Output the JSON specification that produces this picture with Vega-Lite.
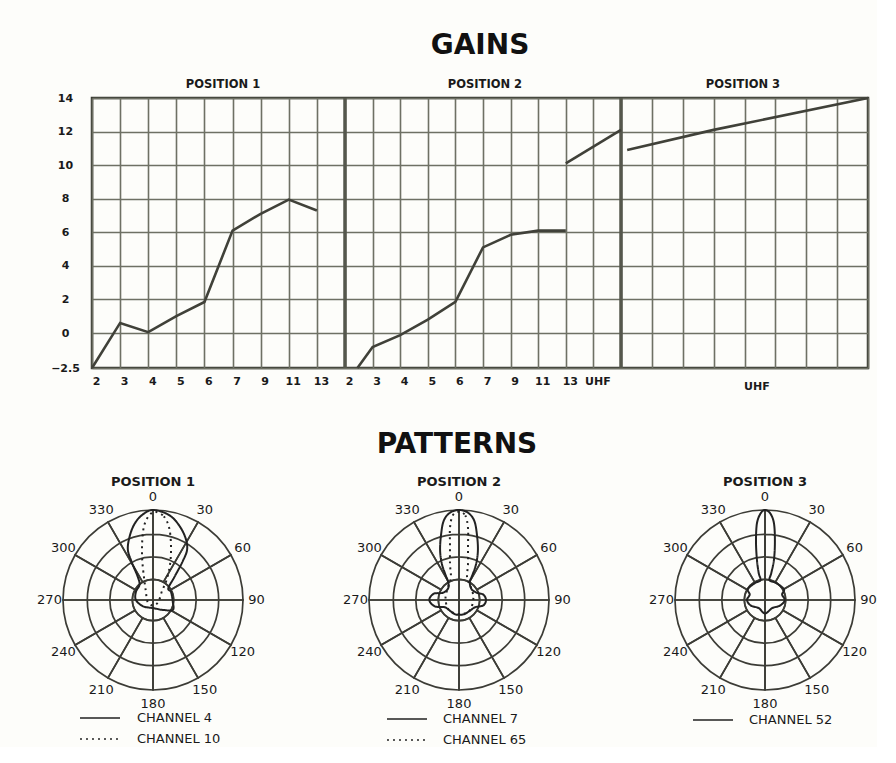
{
  "$schema": "https://vega.github.io/schema/vega-lite/v6.json",
  "background": "#fdfdfa",
  "padding": {"left": 37, "top": 30, "right": 0, "bottom": 0},
  "config": {"view": {"stroke": null}, "font": "DejaVu Sans"},
  "datasets": {
    "gains": [
      {"seg": "p1", "col": 0, "gain": -2.5}, {"seg": "p1", "col": 1, "gain": 0.6}, {"seg": "p1", "col": 2, "gain": 0.05},
      {"seg": "p1", "col": 3, "gain": 1.0}, {"seg": "p1", "col": 4, "gain": 1.85}, {"seg": "p1", "col": 5, "gain": 6.1},
      {"seg": "p1", "col": 6, "gain": 7.1}, {"seg": "p1", "col": 7, "gain": 7.95}, {"seg": "p1", "col": 8, "gain": 7.3},
      {"seg": "p2", "col": 9.45, "gain": -2.5}, {"seg": "p2", "col": 10, "gain": -1.0}, {"seg": "p2", "col": 11, "gain": -0.15},
      {"seg": "p2", "col": 12, "gain": 0.8}, {"seg": "p2", "col": 13, "gain": 1.85}, {"seg": "p2", "col": 14, "gain": 5.1},
      {"seg": "p2", "col": 15, "gain": 5.85}, {"seg": "p2", "col": 16, "gain": 6.1}, {"seg": "p2", "col": 17, "gain": 6.1},
      {"seg": "p2u", "col": 17, "gain": 10.1}, {"seg": "p2u", "col": 19, "gain": 12.1},
      {"seg": "p3", "col": 19.2, "gain": 10.9}, {"seg": "p3", "col": 22, "gain": 12.1}, {"seg": "p3", "col": 27, "gain": 14.0}
    ],
    "polargrid": [
      {"t": 0, "t2": 30, "r": 1, "r2": 0.23}, {"t": 30, "t2": 60, "r": 1, "r2": 0.23},
      {"t": 60, "t2": 90, "r": 1, "r2": 0.23}, {"t": 90, "t2": 120, "r": 1, "r2": 0.23},
      {"t": 120, "t2": 150, "r": 1, "r2": 0.23}, {"t": 150, "t2": 180, "r": 1, "r2": 0.23},
      {"t": 180, "t2": 210, "r": 1, "r2": 0.23}, {"t": 210, "t2": 240, "r": 1, "r2": 0.23},
      {"t": 240, "t2": 270, "r": 1, "r2": 0.23}, {"t": 270, "t2": 300, "r": 1, "r2": 0.23},
      {"t": 300, "t2": 330, "r": 1, "r2": 0.23}, {"t": 330, "t2": 360, "r": 1, "r2": 0.23},
      {"t": 0, "t2": 90, "r": 0.23, "r2": 0}, {"t": 90, "t2": 180, "r": 0.23, "r2": 0},
      {"t": 180, "t2": 270, "r": 0.23, "r2": 0}, {"t": 270, "t2": 360, "r": 0.23, "r2": 0},
      {"t": 0, "t2": 360, "r": 0.73, "r2": 0.48}
    ],
    "angles": [
      {"a": 0, "lab": "0"}, {"a": 30, "lab": "30"}, {"a": 60, "lab": "60"}, {"a": 90, "lab": "90"},
      {"a": 120, "lab": "120"}, {"a": 150, "lab": "150"}, {"a": 180, "lab": "180"}, {"a": 210, "lab": "210"},
      {"a": 240, "lab": "240"}, {"a": 270, "lab": "270"}, {"a": 300, "lab": "300"}, {"a": 330, "lab": "330"}
    ],
    "pat1": [
      {"ch": "CHANNEL 4", "i": 0, "x": 0, "y": 1.0}, {"ch": "CHANNEL 4", "i": 1, "x": 0.15, "y": 0.96},
      {"ch": "CHANNEL 4", "i": 2, "x": 0.26, "y": 0.87}, {"ch": "CHANNEL 4", "i": 3, "x": 0.35, "y": 0.72},
      {"ch": "CHANNEL 4", "i": 4, "x": 0.38, "y": 0.57}, {"ch": "CHANNEL 4", "i": 5, "x": 0.33, "y": 0.43},
      {"ch": "CHANNEL 4", "i": 6, "x": 0.24, "y": 0.26}, {"ch": "CHANNEL 4", "i": 7, "x": 0.17, "y": 0.13},
      {"ch": "CHANNEL 4", "i": 8, "x": 0.2, "y": 0.09}, {"ch": "CHANNEL 4", "i": 9, "x": 0.22, "y": -0.02},
      {"ch": "CHANNEL 4", "i": 10, "x": 0.22, "y": -0.11}, {"ch": "CHANNEL 4", "i": 11, "x": 0.11, "y": -0.11},
      {"ch": "CHANNEL 4", "i": 12, "x": 0, "y": -0.09}, {"ch": "CHANNEL 4", "i": 13, "x": -0.11, "y": -0.07},
      {"ch": "CHANNEL 4", "i": 14, "x": -0.19, "y": 0}, {"ch": "CHANNEL 4", "i": 15, "x": -0.19, "y": 0.09},
      {"ch": "CHANNEL 4", "i": 16, "x": -0.15, "y": 0.17}, {"ch": "CHANNEL 4", "i": 17, "x": -0.17, "y": 0.26},
      {"ch": "CHANNEL 4", "i": 18, "x": -0.24, "y": 0.43}, {"ch": "CHANNEL 4", "i": 19, "x": -0.28, "y": 0.57},
      {"ch": "CHANNEL 4", "i": 20, "x": -0.25, "y": 0.74}, {"ch": "CHANNEL 4", "i": 21, "x": -0.19, "y": 0.87},
      {"ch": "CHANNEL 4", "i": 22, "x": -0.1, "y": 0.96},
      {"ch": "CHANNEL 10", "i": 0, "x": 0.02, "y": 0.98}, {"ch": "CHANNEL 10", "i": 1, "x": 0.12, "y": 0.93},
      {"ch": "CHANNEL 10", "i": 2, "x": 0.18, "y": 0.8}, {"ch": "CHANNEL 10", "i": 3, "x": 0.2, "y": 0.6},
      {"ch": "CHANNEL 10", "i": 4, "x": 0.19, "y": 0.4}, {"ch": "CHANNEL 10", "i": 5, "x": 0.15, "y": 0.22},
      {"ch": "CHANNEL 10", "i": 6, "x": 0.1, "y": 0.1}, {"ch": "CHANNEL 10", "i": 7, "x": 0.06, "y": -0.02},
      {"ch": "CHANNEL 10", "i": 8, "x": 0, "y": -0.06}, {"ch": "CHANNEL 10", "i": 9, "x": -0.06, "y": -0.02},
      {"ch": "CHANNEL 10", "i": 10, "x": -0.08, "y": 0.1}, {"ch": "CHANNEL 10", "i": 11, "x": -0.1, "y": 0.25},
      {"ch": "CHANNEL 10", "i": 12, "x": -0.12, "y": 0.45}, {"ch": "CHANNEL 10", "i": 13, "x": -0.12, "y": 0.65},
      {"ch": "CHANNEL 10", "i": 14, "x": -0.1, "y": 0.82}, {"ch": "CHANNEL 10", "i": 15, "x": -0.05, "y": 0.93}
    ],
    "pat2": [
      {"ch": "CHANNEL 7", "i": 0, "x": 0, "y": 1.0}, {"ch": "CHANNEL 7", "i": 1, "x": 0.1, "y": 0.97},
      {"ch": "CHANNEL 7", "i": 2, "x": 0.17, "y": 0.88}, {"ch": "CHANNEL 7", "i": 3, "x": 0.2, "y": 0.72},
      {"ch": "CHANNEL 7", "i": 4, "x": 0.21, "y": 0.55}, {"ch": "CHANNEL 7", "i": 5, "x": 0.19, "y": 0.4},
      {"ch": "CHANNEL 7", "i": 6, "x": 0.15, "y": 0.28}, {"ch": "CHANNEL 7", "i": 7, "x": 0.12, "y": 0.2},
      {"ch": "CHANNEL 7", "i": 8, "x": 0.14, "y": 0.12}, {"ch": "CHANNEL 7", "i": 9, "x": 0.2, "y": 0.08},
      {"ch": "CHANNEL 7", "i": 10, "x": 0.27, "y": 0.06}, {"ch": "CHANNEL 7", "i": 11, "x": 0.3, "y": 0.0},
      {"ch": "CHANNEL 7", "i": 12, "x": 0.27, "y": -0.06}, {"ch": "CHANNEL 7", "i": 13, "x": 0.18, "y": -0.08},
      {"ch": "CHANNEL 7", "i": 14, "x": 0.12, "y": -0.12}, {"ch": "CHANNEL 7", "i": 15, "x": 0.05, "y": -0.16},
      {"ch": "CHANNEL 7", "i": 16, "x": -0.04, "y": -0.16}, {"ch": "CHANNEL 7", "i": 17, "x": -0.1, "y": -0.12},
      {"ch": "CHANNEL 7", "i": 18, "x": -0.16, "y": -0.08}, {"ch": "CHANNEL 7", "i": 19, "x": -0.27, "y": -0.07},
      {"ch": "CHANNEL 7", "i": 20, "x": -0.33, "y": 0.0}, {"ch": "CHANNEL 7", "i": 21, "x": -0.28, "y": 0.07},
      {"ch": "CHANNEL 7", "i": 22, "x": -0.18, "y": 0.08}, {"ch": "CHANNEL 7", "i": 23, "x": -0.12, "y": 0.13},
      {"ch": "CHANNEL 7", "i": 24, "x": -0.12, "y": 0.2}, {"ch": "CHANNEL 7", "i": 25, "x": -0.15, "y": 0.28},
      {"ch": "CHANNEL 7", "i": 26, "x": -0.19, "y": 0.4}, {"ch": "CHANNEL 7", "i": 27, "x": -0.21, "y": 0.55},
      {"ch": "CHANNEL 7", "i": 28, "x": -0.2, "y": 0.72}, {"ch": "CHANNEL 7", "i": 29, "x": -0.17, "y": 0.88},
      {"ch": "CHANNEL 7", "i": 30, "x": -0.1, "y": 0.97},
      {"ch": "CHANNEL 65", "i": 0, "x": 0, "y": 0.98}, {"ch": "CHANNEL 65", "i": 1, "x": 0.07, "y": 0.94},
      {"ch": "CHANNEL 65", "i": 2, "x": 0.1, "y": 0.8}, {"ch": "CHANNEL 65", "i": 3, "x": 0.1, "y": 0.6},
      {"ch": "CHANNEL 65", "i": 4, "x": 0.1, "y": 0.4}, {"ch": "CHANNEL 65", "i": 5, "x": 0.09, "y": 0.25},
      {"ch": "CHANNEL 65", "i": 6, "x": 0.13, "y": 0.15}, {"ch": "CHANNEL 65", "i": 7, "x": 0.16, "y": 0.03},
      {"ch": "CHANNEL 65", "i": 8, "x": 0.13, "y": -0.1}, {"ch": "CHANNEL 65", "i": 9, "x": 0.06, "y": -0.15},
      {"ch": "CHANNEL 65", "i": 10, "x": -0.04, "y": -0.15}, {"ch": "CHANNEL 65", "i": 11, "x": -0.12, "y": -0.1},
      {"ch": "CHANNEL 65", "i": 12, "x": -0.15, "y": 0.02}, {"ch": "CHANNEL 65", "i": 13, "x": -0.12, "y": 0.15},
      {"ch": "CHANNEL 65", "i": 14, "x": -0.09, "y": 0.25}, {"ch": "CHANNEL 65", "i": 15, "x": -0.1, "y": 0.4},
      {"ch": "CHANNEL 65", "i": 16, "x": -0.1, "y": 0.6}, {"ch": "CHANNEL 65", "i": 17, "x": -0.1, "y": 0.8},
      {"ch": "CHANNEL 65", "i": 18, "x": -0.07, "y": 0.94}
    ],
    "pat3": [
      {"ch": "CHANNEL 52", "i": 0, "x": 0, "y": 1.0}, {"ch": "CHANNEL 52", "i": 1, "x": 0.06, "y": 0.96},
      {"ch": "CHANNEL 52", "i": 2, "x": 0.1, "y": 0.85}, {"ch": "CHANNEL 52", "i": 3, "x": 0.11, "y": 0.65},
      {"ch": "CHANNEL 52", "i": 4, "x": 0.1, "y": 0.45}, {"ch": "CHANNEL 52", "i": 5, "x": 0.07, "y": 0.3},
      {"ch": "CHANNEL 52", "i": 6, "x": 0.05, "y": 0.22}, {"ch": "CHANNEL 52", "i": 7, "x": 0.12, "y": 0.19},
      {"ch": "CHANNEL 52", "i": 8, "x": 0.21, "y": 0.12}, {"ch": "CHANNEL 52", "i": 9, "x": 0.19, "y": 0.06},
      {"ch": "CHANNEL 52", "i": 10, "x": 0.22, "y": 0.0}, {"ch": "CHANNEL 52", "i": 11, "x": 0.17, "y": -0.06},
      {"ch": "CHANNEL 52", "i": 12, "x": 0.08, "y": -0.09}, {"ch": "CHANNEL 52", "i": 13, "x": 0, "y": -0.15},
      {"ch": "CHANNEL 52", "i": 14, "x": -0.07, "y": -0.09}, {"ch": "CHANNEL 52", "i": 15, "x": -0.16, "y": -0.06},
      {"ch": "CHANNEL 52", "i": 16, "x": -0.2, "y": 0.0}, {"ch": "CHANNEL 52", "i": 17, "x": -0.17, "y": 0.06},
      {"ch": "CHANNEL 52", "i": 18, "x": -0.19, "y": 0.12}, {"ch": "CHANNEL 52", "i": 19, "x": -0.11, "y": 0.19},
      {"ch": "CHANNEL 52", "i": 20, "x": -0.05, "y": 0.22}, {"ch": "CHANNEL 52", "i": 21, "x": -0.07, "y": 0.3},
      {"ch": "CHANNEL 52", "i": 22, "x": -0.09, "y": 0.45}, {"ch": "CHANNEL 52", "i": 23, "x": -0.1, "y": 0.65},
      {"ch": "CHANNEL 52", "i": 24, "x": -0.09, "y": 0.85}, {"ch": "CHANNEL 52", "i": 25, "x": -0.05, "y": 0.96}
    ]
  },
  "spacing": 36,
  "vconcat": [
    {
      "spacing": 0,
      "hconcat": [
        {
          "width": 4,
          "height": 10,
          "mark": {"type": "point", "opacity": 0},
          "encoding": {}
        },
        {
          "title": {"text": "GAINS", "fontSize": 28, "fontWeight": "bold", "font": "DejaVu Sans", "color": "#111111", "anchor": "middle", "offset": 19},
          "width": 776,
          "height": 270,
          "view": {"stroke": "#3a3b33", "strokeWidth": 2.5},
          "layer": [
            {
              "data": {"values": [{"col": 9}, {"col": 19}]},
              "mark": {"type": "rule", "color": "#55574c", "strokeWidth": 3.5},
              "encoding": {"x": {"field": "col", "type": "quantitative"}}
            },
            {
              "data": {"name": "gains"},
              "mark": {"type": "line", "color": "#404139", "strokeWidth": 2.6},
              "encoding": {
                "x": {
                  "field": "col", "type": "quantitative",
                  "scale": {"domain": [0, 9, 19, 27], "range": [0, 253, 529, 776], "nice": false, "zero": false},
                  "axis": {
                    "title": null,
                    "values": [0, 1, 2, 3, 4, 5, 6, 7, 8, 9, 10, 11, 12, 13, 14, 15, 16, 17, 18, 19, 20, 21, 22, 23, 24, 25, 26, 27],
                    "tickCount": 100,
                    "grid": true, "gridColor": "#6e7064", "gridWidth": 1.6,
                    "domain": false, "ticks": false,
                    "labelExpr": "datum.value < 19 ? ['2','3','4','5','6','7','9','11','13','2','3','4','5','6','7','9','11','13','UHF'][datum.value] : ''",
                    "labelFont": "DejaVu Sans", "labelFontSize": 11, "labelFontWeight": "bold", "labelColor": "#1a1a1a",
                    "labelPadding": 7, "labelOffset": 4, "labelOverlap": false, "labelFlush": false
                  }
                },
                "y": {
                  "field": "gain", "type": "quantitative",
                  "scale": {"domain": [-2.5, 0, 14], "range": [270, 235, 0], "nice": false, "zero": false},
                  "axis": {
                    "title": null,
                    "values": [-2.5, 0, 2, 4, 6, 8, 10, 12, 14],
                    "tickCount": 100,
                    "grid": true, "gridColor": "#6e7064", "gridWidth": 1.6,
                    "domain": false, "ticks": false,
                    "labelExpr": "datum.value == -2.5 ? '−2.5' : '' + datum.value",
                    "labelFont": "DejaVu Sans", "labelFontSize": 11, "labelFontWeight": "bold", "labelColor": "#1a1a1a",
                    "labelAlign": "center", "labelPadding": 27, "labelOverlap": false
                  }
                },
                "detail": {"field": "seg", "type": "nominal"}
              }
            },
            {
              "data": {"values": [{"col": 4.66, "label": "POSITION 1"}, {"col": 14.07, "label": "POSITION 2"}, {"col": 22.95, "label": "POSITION 3"}]},
              "mark": {"type": "text", "font": "DejaVu Sans", "fontSize": 11.5, "fontWeight": "bold", "color": "#1a1a1a", "dy": -13},
              "encoding": {
                "x": {"field": "col", "type": "quantitative"},
                "y": {"datum": 14, "type": "quantitative"},
                "text": {"field": "label"}
              }
            },
            {
              "data": {"values": [{"col": 23.4, "label": "UHF"}]},
              "mark": {"type": "text", "font": "DejaVu Sans", "fontSize": 11, "fontWeight": "bold", "color": "#1a1a1a", "dy": 19},
              "encoding": {
                "x": {"field": "col", "type": "quantitative"},
                "y": {"datum": -2.5, "type": "quantitative"},
                "text": {"field": "label"}
              }
            }
          ]
        }
      ]
    },
    {
      "title": {"text": "PATTERNS", "fontSize": 28, "fontWeight": "bold", "font": "DejaVu Sans", "color": "#111111", "anchor": "middle", "offset": 17},
      "spacing": 78,
      "resolve": {"scale": {"strokeDash": "independent"}, "legend": {"strokeDash": "independent"}},
      "hconcat": [
        {
          "title": {"text": "POSITION 1", "fontSize": 13, "fontWeight": "bold", "font": "DejaVu Sans", "color": "#1a1a1a", "anchor": "middle", "frame": "group", "offset": 2},
          "width": 216, "height": 216,
          "layer": [
            {
              "data": {"name": "polargrid"},
              "mark": {"type": "arc", "filled": false, "stroke": "#3c3c36", "strokeWidth": 1.7},
              "encoding": {
                "theta": {"field": "t", "type": "quantitative", "scale": {"domain": [0, 360], "range": [0, 6.283185]}, "stack": null},
                "theta2": {"field": "t2"},
                "radius": {"field": "r", "type": "quantitative", "scale": {"type": "linear", "domain": [0, 1.2], "range": [0, 108], "zero": true}},
                "radius2": {"field": "r2"}
              }
            },
            {
              "data": {"name": "angles"},
              "mark": {"type": "text", "font": "DejaVu Sans", "fontSize": 13, "color": "#1a1a1a"},
              "encoding": {
                "theta": {"field": "a", "type": "quantitative", "stack": null},
                "radius": {"datum": 1.15, "type": "quantitative"},
                "text": {"field": "lab"}
              }
            },
            {
              "data": {"name": "pat1"},
              "mark": {"type": "line", "color": "#222222", "strokeWidth": 2, "interpolate": "cardinal-closed"},
              "encoding": {
                "x": {"field": "x", "type": "quantitative", "scale": {"domain": [-1.2, 1.2]}, "axis": null},
                "y": {"field": "y", "type": "quantitative", "scale": {"domain": [-1.2, 1.2]}, "axis": null},
                "order": {"field": "i", "type": "quantitative"},
                "strokeDash": {
                  "field": "ch", "type": "nominal",
                  "scale": {"domain": ["CHANNEL 4", "CHANNEL 10"], "range": [[1, 0], [2, 4]]},
                  "legend": {"title": null, "orient": "none", "legendX": 43, "legendY": 214, "symbolType": "M-1.79,0H1.79", "symbolSize": 500, "symbolStrokeWidth": 1.6, "symbolStrokeColor": "#222222", "labelFont": "DejaVu Sans", "labelFontSize": 13, "labelColor": "#1a1a1a", "labelOffset": 25, "padding": 0}
                }
              }
            }
          ]
        },
        {
          "title": {"text": "POSITION 2", "fontSize": 13, "fontWeight": "bold", "font": "DejaVu Sans", "color": "#1a1a1a", "anchor": "middle", "frame": "group", "offset": 2},
          "width": 216, "height": 216,
          "layer": [
            {
              "data": {"name": "polargrid"},
              "mark": {"type": "arc", "filled": false, "stroke": "#3c3c36", "strokeWidth": 1.7},
              "encoding": {
                "theta": {"field": "t", "type": "quantitative", "scale": {"domain": [0, 360], "range": [0, 6.283185]}, "stack": null},
                "theta2": {"field": "t2"},
                "radius": {"field": "r", "type": "quantitative", "scale": {"type": "linear", "domain": [0, 1.2], "range": [0, 108], "zero": true}},
                "radius2": {"field": "r2"}
              }
            },
            {
              "data": {"name": "angles"},
              "mark": {"type": "text", "font": "DejaVu Sans", "fontSize": 13, "color": "#1a1a1a"},
              "encoding": {
                "theta": {"field": "a", "type": "quantitative", "stack": null},
                "radius": {"datum": 1.15, "type": "quantitative"},
                "text": {"field": "lab"}
              }
            },
            {
              "data": {"name": "pat2"},
              "mark": {"type": "line", "color": "#222222", "strokeWidth": 2, "interpolate": "cardinal-closed"},
              "encoding": {
                "x": {"field": "x", "type": "quantitative", "scale": {"domain": [-1.2, 1.2]}, "axis": null},
                "y": {"field": "y", "type": "quantitative", "scale": {"domain": [-1.2, 1.2]}, "axis": null},
                "order": {"field": "i", "type": "quantitative"},
                "strokeDash": {
                  "field": "ch", "type": "nominal",
                  "scale": {"domain": ["CHANNEL 7", "CHANNEL 65"], "range": [[1, 0], [2, 4]]},
                  "legend": {"title": null, "orient": "none", "legendX": 44, "legendY": 215, "symbolType": "M-1.79,0H1.79", "symbolSize": 500, "symbolStrokeWidth": 1.6, "symbolStrokeColor": "#222222", "labelFont": "DejaVu Sans", "labelFontSize": 13, "labelColor": "#1a1a1a", "labelOffset": 24, "padding": 0}
                }
              }
            }
          ]
        },
        {
          "title": {"text": "POSITION 3", "fontSize": 13, "fontWeight": "bold", "font": "DejaVu Sans", "color": "#1a1a1a", "anchor": "middle", "frame": "group", "offset": 2},
          "width": 216, "height": 216,
          "layer": [
            {
              "data": {"name": "polargrid"},
              "mark": {"type": "arc", "filled": false, "stroke": "#3c3c36", "strokeWidth": 1.7},
              "encoding": {
                "theta": {"field": "t", "type": "quantitative", "scale": {"domain": [0, 360], "range": [0, 6.283185]}, "stack": null},
                "theta2": {"field": "t2"},
                "radius": {"field": "r", "type": "quantitative", "scale": {"type": "linear", "domain": [0, 1.2], "range": [0, 108], "zero": true}},
                "radius2": {"field": "r2"}
              }
            },
            {
              "data": {"name": "angles"},
              "mark": {"type": "text", "font": "DejaVu Sans", "fontSize": 13, "color": "#1a1a1a"},
              "encoding": {
                "theta": {"field": "a", "type": "quantitative", "stack": null},
                "radius": {"datum": 1.15, "type": "quantitative"},
                "text": {"field": "lab"}
              }
            },
            {
              "data": {"name": "pat3"},
              "mark": {"type": "line", "color": "#222222", "strokeWidth": 2, "interpolate": "cardinal-closed"},
              "encoding": {
                "x": {"field": "x", "type": "quantitative", "scale": {"domain": [-1.2, 1.2]}, "axis": null},
                "y": {"field": "y", "type": "quantitative", "scale": {"domain": [-1.2, 1.2]}, "axis": null},
                "order": {"field": "i", "type": "quantitative"},
                "strokeDash": {
                  "field": "ch", "type": "nominal",
                  "scale": {"domain": ["CHANNEL 52"], "range": [[1, 0]]},
                  "legend": {"title": null, "orient": "none", "legendX": 44, "legendY": 216, "symbolType": "M-1.79,0H1.79", "symbolSize": 500, "symbolStrokeWidth": 1.6, "symbolStrokeColor": "#222222", "labelFont": "DejaVu Sans", "labelFontSize": 13, "labelColor": "#1a1a1a", "labelOffset": 24, "padding": 0}
                }
              }
            }
          ]
        }
      ]
    }
  ]
}
